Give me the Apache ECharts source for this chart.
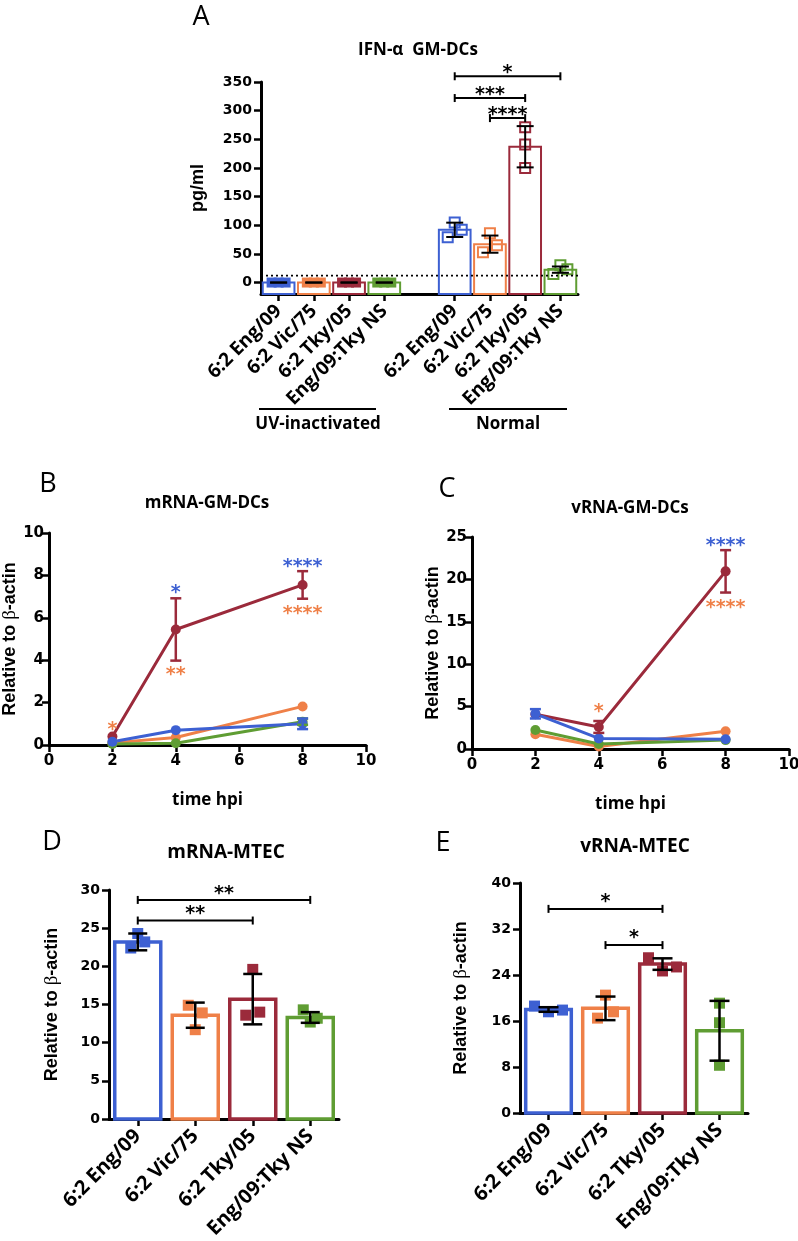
<!DOCTYPE html>
<html>
<head>
<meta charset="utf-8">
<script src="https://cdn.jsdelivr.net/npm/echarts@6/dist/echarts.min.js"></script>
<style>
  html, body { margin: 0; background: #fff; }
  #chart { width: 798px; height: 1241px; }
</style>
</head>
<body>
<div id="chart"></div>
<script>
// strain colours
const BLUE = '#3d60d2', ORANGE = '#ef8048', RED = '#9b2a3b', GREEN = '#5f9d33';
const STRAIN = [BLUE, ORANGE, RED, GREEN];

// ---- A: IFN-a GM-DCs (pg/ml) ----
const catsA = ['6:2 Eng/09', '6:2 Vic/75', '6:2 Tky/05', 'Eng/09:Tky NS', '',
               '6:2 Eng/09', '6:2 Vic/75', '6:2 Tky/05', 'Eng/09:Tky NS'];
const colorsA = [BLUE, ORANGE, RED, GREEN, null, BLUE, ORANGE, RED, GREEN];
const ifnMean = [0, 0, 0, 0, null, 92, 67, 237, 22.5];
const ifnSd = [0, 0, 0, 0, null, 12.5, 15, 36, 5.5];
const ifnPts = [[0, 0, 0], [0, 0, 0], [0, 0, 0], [0, 0, 0], [],
                [79, 105, 92], [53, 86, 65], [200, 271, 241], [15, 30, 23]];
const ifnLimit = 12;
const ifnTicks = [0, 50, 100, 150, 200, 250, 300, 350];
const bracketsA = [[5, 8, 360, '*'], [5, 7, 322, '***'], [6, 7, 287, '****']];

// ---- B / C: time course in GM-DCs ----
const hpi = [2, 4, 8];
const mrnaEng = [0.15, 0.7, 1.0],  mrnaEngSd = [0, 0, 0.25];
const mrnaVic = [0.1, 0.35, 1.82], mrnaVicSd = [0, 0, 0];
const mrnaTky = [0.4, 5.45, 7.55], mrnaTkySd = [0, 1.47, 0.65];
const mrnaNs  = [0.05, 0.08, 1.1], mrnaNsSd  = [0, 0, 0.15];
const starsB = [[2, 0.95, '*', ORANGE], [4, 7.4, '*', BLUE], [4, 3.55, '**', ORANGE],
                [8, 8.65, '****', BLUE], [8, 6.4, '****', ORANGE]];

const vrnaEng = [4.15, 1.25, 1.15], vrnaEngSd = [0.55, 0, 0];
const vrnaVic = [1.75, 0.3, 2.1],   vrnaVicSd = [0, 0, 0];
const vrnaTky = [4.1, 2.6, 20.95],  vrnaTkySd = [0, 0.7, 2.5];
const vrnaNs  = [2.25, 0.6, 1.05],  vrnaNsSd  = [0, 0, 0];
const starsC = [[4, 4.95, '*', ORANGE], [8, 24.5, '****', BLUE], [8, 17.2, '****', ORANGE]];

// ---- D / E: MTEC ----
const catsMtec = ['6:2 Eng/09', '6:2 Vic/75', '6:2 Tky/05', 'Eng/09:Tky NS'];
const mrnaMtecMean = [23.2, 13.6, 15.7, 13.3];
const mrnaMtecSd = [1.1, 1.65, 3.3, 0.7];
const mrnaMtecPts = [[22.4, 24.3, 23.2], [14.9, 11.7, 13.9], [13.6, 19.6, 14.0], [14.3, 12.7, 13.2]];
const bracketsD = [[0, 3, 28.7, '**'], [0, 2, 26.0, '**']];

const vrnaMtecMean = [18.0, 18.2, 25.9, 14.3];
const vrnaMtecSd = [0.4, 2.05, 1.0, 5.2];
const vrnaMtecPts = [[18.6, 17.6, 17.9], [16.5, 20.5, 17.6], [27.0, 24.7, 25.4], [8.3, 19.1, 15.7]];
const bracketsE = [[0, 2, 35.5, '*'], [1, 2, 29.2, '*']];

// ---- shared styles ----
const TICK_FONT = 'DejaVu Sans';
const TEXT_FONT = 'Open Sans';
const STAR_FONT = 'bold 19px "DejaVu Sans"';
const AXIS_LINE = { show: true, onZero: false, lineStyle: { color: '#000', width: 3 } };
const AXIS_TICK = { show: true, inside: false, length: 7, lineStyle: { color: '#000', width: 2.5 } };
const yName = 'Relative to {b|β}-actin';

function nameStyle(size) {
  return {
    color: '#000', fontFamily: 'Liberation Sans', fontWeight: 'bold', fontSize: size,
    rich: { b: { fontFamily: 'Liberation Serif', fontWeight: 'normal', fontSize: size + 1, color: '#000' } }
  };
}

function tickLabel(size, margin) {
  return { color: '#000', fontFamily: TICK_FONT, fontWeight: 'bold', fontSize: size, margin: margin };
}

function catAxis(gi, cats, size) {
  return {
    type: 'category', gridIndex: gi, data: cats, boundaryGap: true,
    axisLine: AXIS_LINE,
    axisTick: Object.assign({}, AXIS_TICK, { alignWithLabel: true, interval: (i, v) => v !== '' }),
    axisLabel: { rotate: 45, interval: 0, margin: 14, color: '#000', fontFamily: TEXT_FONT, fontWeight: 'bold', fontSize: size },
    splitLine: { show: false }
  };
}

function valAxis(gi, min, max, interval, size, margin, extra) {
  return Object.assign({
    type: 'value', gridIndex: gi, min: min, max: max, interval: interval,
    axisLine: AXIS_LINE, axisTick: AXIS_TICK,
    axisLabel: tickLabel(size, margin),
    splitLine: { show: false }
  }, extra || {});
}

// error bars: vertical line with caps
function errSeries(gi, xs, means, sds, color, cap, lw) {
  const data = [];
  xs.forEach((x, i) => {
    if (means[i] == null || sds[i] == null) return;
    if (sds[i] === 0 && cap < 12) return;
    data.push([x, means[i] - sds[i], means[i] + sds[i]]);
  });
  return {
    type: 'custom', xAxisIndex: gi, yAxisIndex: gi, clip: false, z: 6, silent: true, data: data,
    renderItem(params, api) {
      const lo = api.coord([api.value(0), api.value(1)]);
      const hi = api.coord([api.value(0), api.value(2)]);
      const st = { stroke: color, lineWidth: lw };
      return {
        type: 'group', children: [
          { type: 'line', shape: { x1: lo[0], y1: lo[1], x2: hi[0], y2: hi[1] }, style: st },
          { type: 'line', shape: { x1: lo[0] - cap / 2, y1: lo[1], x2: lo[0] + cap / 2, y2: lo[1] }, style: st },
          { type: 'line', shape: { x1: hi[0] - cap / 2, y1: hi[1], x2: hi[0] + cap / 2, y2: hi[1] }, style: st }
        ]
      };
    }
  };
}

// individual replicates as squares, spread sideways by slot
function ptsSeries(gi, pts, colors, size, gap, hollow) {
  const data = [];
  pts.forEach((arr, c) => arr.forEach((v, k) => data.push([c, v, k])));
  return {
    type: 'custom', xAxisIndex: gi, yAxisIndex: gi, clip: false, z: 4, silent: true, data: data,
    renderItem(params, api) {
      const c = api.value(0), k = api.value(2);
      const p = api.coord([c, api.value(1)]);
      const x = p[0] + (k - 1) * gap(c);
      const open = hollow(c);
      return {
        type: 'rect',
        shape: { x: x - size / 2, y: p[1] - size / 2, width: size, height: size },
        style: open ? { fill: 'rgba(255,255,255,0)', stroke: colors[c], lineWidth: 2 }
                    : { fill: colors[c] }
      };
    }
  };
}

// significance brackets
function bracketSeries(gi, list, lift) {
  return {
    type: 'custom', xAxisIndex: gi, yAxisIndex: gi, clip: false, z: 7, silent: true,
    data: list.map(b => [b[0], b[1], b[2]]),
    renderItem(params, api) {
      const b = list[params.dataIndex];
      const a = api.coord([b[0], b[2]]), c = api.coord([b[1], b[2]]);
      const st = { stroke: '#000', lineWidth: 2 };
      return {
        type: 'group', children: [
          { type: 'line', shape: { x1: a[0], y1: a[1], x2: c[0], y2: c[1] }, style: st },
          { type: 'line', shape: { x1: a[0], y1: a[1] - 4, x2: a[0], y2: a[1] + 4 }, style: st },
          { type: 'line', shape: { x1: c[0], y1: c[1] - 4, x2: c[0], y2: c[1] + 4 }, style: st },
          { type: 'text', style: { text: b[3], x: (a[0] + c[0]) / 2, y: a[1] - lift + 5,
              align: 'center', verticalAlign: 'middle', fill: '#000', font: STAR_FONT } }
        ]
      };
    }
  };
}

// coloured asterisks next to time-course points
function starSeries(gi, list) {
  return {
    type: 'custom', xAxisIndex: gi, yAxisIndex: gi, clip: false, z: 7, silent: true,
    data: list.map(s => [s[0], s[1]]),
    renderItem(params, api) {
      const s = list[params.dataIndex];
      const p = api.coord([s[0], s[1]]);
      return { type: 'text', style: { text: s[2], x: p[0], y: p[1] + 5, align: 'center',
        verticalAlign: 'middle', fill: s[3], font: STAR_FONT } };
    }
  };
}

function lineSeries(gi, ys, color) {
  return {
    type: 'line', xAxisIndex: gi, yAxisIndex: gi, data: hpi.map((t, i) => [t, ys[i]]),
    symbol: 'circle', symbolSize: 10, showSymbol: true, z: 3, silent: true,
    lineStyle: { width: 3, color: color }, itemStyle: { color: color }
  };
}

function hollowBars(gi, means, colors, base, ratio, lw) {
  const data = [];
  means.forEach((m, i) => { if (m != null) data.push([i, m]); });
  return {
    type: 'custom', xAxisIndex: gi, yAxisIndex: gi, clip: false, z: 2, silent: true, data: data,
    renderItem(params, api) {
      const i = api.value(0);
      const top = api.coord([i, api.value(1)]);
      const bot = api.coord([i, base]);
      const w = api.size([1, 0])[0] * ratio;
      return {
        type: 'rect', shape: { x: top[0] - w / 2, y: top[1], width: w, height: bot[1] - top[1] },
        style: { fill: '#fff', stroke: colors[i], lineWidth: lw }
      };
    }
  };
}

function limitLine(gi, value) {
  return {
    type: 'custom', xAxisIndex: gi, yAxisIndex: gi, clip: false, z: 8, silent: true, data: [[0, value]],
    renderItem(params, api) {
      const cs = params.coordSys;
      const y = api.coord([0, api.value(1)])[1];
      return { type: 'line', shape: { x1: cs.x, y1: y, x2: cs.x + cs.width, y2: y },
        style: { stroke: '#000', lineWidth: 1.6, lineDash: [2, 3] } };
    }
  };
}

function label(x, y, text, font) {
  return { type: 'text', x: x, y: y, style: { text: text, font: font, fill: '#000',
    align: 'center', verticalAlign: 'middle', textAlign: 'center', textVerticalAlign: 'middle' } };
}

const timeName = { name: 'time hpi', nameLocation: 'middle', nameGap: 47,
  nameTextStyle: { color: '#000', fontFamily: TEXT_FONT, fontWeight: 'bold', fontSize: 17 } };

const chart = echarts.init(document.getElementById('chart'));

const option = {
  animation: false,
  backgroundColor: '#fff',
  grid: [
    { left: 261, top: 82, width: 317, height: 212, containLabel: false, outerBoundsMode: 'none' },
    { left: 49, top: 533, width: 317, height: 212, containLabel: false, outerBoundsMode: 'none' },
    { left: 472, top: 537, width: 317, height: 212, containLabel: false, outerBoundsMode: 'none' },
    { left: 109, top: 890, width: 230, height: 229, containLabel: false, outerBoundsMode: 'none' },
    { left: 520, top: 883, width: 228, height: 230, containLabel: false, outerBoundsMode: 'none' }
  ],
  xAxis: [
    catAxis(0, catsA, 19),
    valAxis(1, 0, 10, 2, 15, 9, timeName),
    valAxis(2, 0, 10, 2, 15, 9, timeName),
    catAxis(3, catsMtec, 20),
    catAxis(4, catsMtec, 20)
  ],
  yAxis: [
    {
      type: 'value', gridIndex: 0, min: -20, max: 350,
      axisLine: AXIS_LINE,
      axisTick: Object.assign({}, AXIS_TICK, { customValues: ifnTicks }),
      axisLabel: Object.assign(tickLabel(14, 9), { customValues: ifnTicks }),
      splitLine: { show: false },
      name: 'pg/ml', nameLocation: 'middle', nameGap: 54, nameTextStyle: nameStyle(18)
    },
    valAxis(1, 0, 10, 2, 15, 5, { name: yName, nameLocation: 'middle', nameGap: 25, nameTextStyle: nameStyle(18) }),
    valAxis(2, 0, 25, 5, 15, 5, { name: yName, nameLocation: 'middle', nameGap: 25, nameTextStyle: nameStyle(18) }),
    valAxis(3, 0, 30, 5, 14, 9, { name: yName, nameLocation: 'middle', nameGap: 47, nameTextStyle: nameStyle(18) }),
    valAxis(4, 0, 40, 8, 14, 9, { name: yName, nameLocation: 'middle', nameGap: 49, nameTextStyle: nameStyle(18) })
  ],
  series: [
    // A
    hollowBars(0, ifnMean, colorsA, -20, 0.9, 2),
    ptsSeries(0, ifnPts, colorsA, 10, c => (c === 7 ? 0 : 7), c => c > 4),
    errSeries(0, catsA.map((c, i) => i), ifnMean, ifnSd, '#000', 17, 2),
    limitLine(0, ifnLimit),
    bracketSeries(0, bracketsA, 8),
    // B
    lineSeries(1, mrnaTky, RED),
    lineSeries(1, mrnaVic, ORANGE),
    lineSeries(1, mrnaNs, GREEN),
    lineSeries(1, mrnaEng, BLUE),
    errSeries(1, hpi, mrnaTky, mrnaTkySd, RED, 11, 2.5),
    errSeries(1, hpi, mrnaVic, mrnaVicSd, ORANGE, 11, 2.5),
    errSeries(1, hpi, mrnaNs, mrnaNsSd, GREEN, 11, 2.5),
    errSeries(1, hpi, mrnaEng, mrnaEngSd, BLUE, 11, 2.5),
    starSeries(1, starsB),
    // C
    lineSeries(2, vrnaTky, RED),
    lineSeries(2, vrnaVic, ORANGE),
    lineSeries(2, vrnaNs, GREEN),
    lineSeries(2, vrnaEng, BLUE),
    errSeries(2, hpi, vrnaTky, vrnaTkySd, RED, 11, 2.5),
    errSeries(2, hpi, vrnaVic, vrnaVicSd, ORANGE, 11, 2.5),
    errSeries(2, hpi, vrnaNs, vrnaNsSd, GREEN, 11, 2.5),
    errSeries(2, hpi, vrnaEng, vrnaEngSd, BLUE, 11, 2.5),
    starSeries(2, starsC),
    // D
    hollowBars(3, mrnaMtecMean, STRAIN, 0, 0.8, 3.5),
    ptsSeries(3, mrnaMtecPts, STRAIN, 11, () => 7, () => false),
    errSeries(3, [0, 1, 2, 3], mrnaMtecMean, mrnaMtecSd, '#000', 19, 2.5),
    bracketSeries(3, bracketsD, 11),
    // E
    hollowBars(4, vrnaMtecMean, STRAIN, 0, 0.8, 3.5),
    ptsSeries(4, vrnaMtecPts, STRAIN, 11, c => (c === 3 ? 0 : c === 1 ? 8 : 14), () => false),
    errSeries(4, [0, 1, 2, 3], vrnaMtecMean, vrnaMtecSd, '#000', 20, 2.5),
    bracketSeries(4, bracketsE, 12)
  ],
  graphic: [
    label(201, 17, 'A', '27px "Open Sans"'),
    label(48, 484, 'B', '27px "Open Sans"'),
    label(447, 489, 'C', '27px "Open Sans"'),
    label(52, 842, 'D', '27px "Open Sans"'),
    label(443, 843, 'E', '27px "Open Sans"'),
    label(418, 50, 'IFN-α  GM-DCs', 'bold 17px "Open Sans"'),
    label(207, 503, 'mRNA-GM-DCs', 'bold 17px "Open Sans"'),
    label(630, 508, 'vRNA-GM-DCs', 'bold 17px "Open Sans"'),
    label(226, 853, 'mRNA-MTEC', 'bold 19px "Open Sans"'),
    label(635, 847, 'vRNA-MTEC', 'bold 19px "Open Sans"'),
    label(318, 424, 'UV-inactivated', 'bold 17px "Open Sans"'),
    label(508, 424, 'Normal', 'bold 17px "Open Sans"'),
    { type: 'line', shape: { x1: 259, y1: 409, x2: 376, y2: 409 }, style: { stroke: '#000', lineWidth: 2 } },
    { type: 'line', shape: { x1: 449, y1: 409, x2: 567, y2: 409 }, style: { stroke: '#000', lineWidth: 2 } }
  ]
};

chart.setOption(option);
</script>
</body>
</html>
